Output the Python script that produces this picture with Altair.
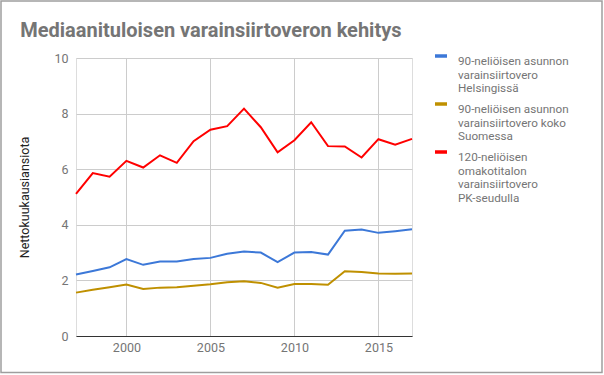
import altair as alt
import pandas as pd

years = list(range(1997, 2018))

helsinki = [2.21, 2.34, 2.47, 2.77, 2.56, 2.68, 2.68, 2.77, 2.81, 2.96, 3.04,
            3.00, 2.66, 3.00, 3.02, 2.93, 3.79, 3.83, 3.71, 3.77, 3.84]
suomi = [1.56, 1.66, 1.75, 1.85, 1.69, 1.74, 1.75, 1.81, 1.86, 1.93, 1.97,
         1.91, 1.74, 1.87, 1.87, 1.84, 2.33, 2.30, 2.25, 2.24, 2.25]
pk = [5.11, 5.86, 5.73, 6.30, 6.06, 6.50, 6.23, 7.01, 7.42, 7.55, 8.18,
      7.51, 6.61, 7.04, 7.69, 6.83, 6.82, 6.42, 7.08, 6.88, 7.09]

series_names = [
    "90-neliöisen asunnon\nvarainsiirtovero\nHelsingissä",
    "90-neliöisen asunnon\nvarainsiirtovero koko\nSuomessa",
    "120-neliöisen\nomakotitalon\nvarainsiirtovero\nPK-seudulla",
]
series_colors = ["#3c78d8", "#bf9000", "#ff0000"]

rows = []
for name, vals in zip(series_names, [helsinki, suomi, pk]):
    for y, v in zip(years, vals):
        rows.append({"Vuosi": y, "Arvo": v, "Sarja": name})
df = pd.DataFrame(rows)

W, H = 336, 278
PL, PT = 76, 58

lines = alt.Chart(df).mark_line(strokeWidth=2).encode(
    x=alt.X("Vuosi:Q",
            scale=alt.Scale(domain=[1997, 2017], nice=False, zero=False),
            axis=alt.Axis(values=[2000, 2005, 2010, 2015], format="d", title=None,
                          grid=True, gridColor="#cccccc", ticks=False,
                          domain=True, domainColor="#333333", domainWidth=1,
                          labelColor="#757575", labelFontSize=12.5, labelFont="Roboto",
                          labelPadding=5)),
    y=alt.Y("Arvo:Q",
            scale=alt.Scale(domain=[0, 10], nice=False),
            axis=alt.Axis(values=[0, 2, 4, 6, 8, 10], title="Nettokuukausiansiota",
                          grid=True, gridColor="#cccccc", ticks=False, domain=False,
                          labelColor="#757575", labelFontSize=12.5, labelFont="Roboto",
                          labelPadding=8, titleColor="#222222", titleFontSize=12.5,
                          titleFont="Roboto", titleFontWeight="normal", titlePadding=22)),
    color=alt.Color("Sarja:N",
                    scale=alt.Scale(domain=series_names, range=series_colors),
                    legend=alt.Legend(
                        title=None, orient="none", legendX=357,
                        legendY=-10,
                        labelExpr="split(datum.label, '\\n')",
                        labelFont="Roboto", labelFontSize=11.7, labelColor="#757575",
                        labelBaseline="top",
                        symbolType="stroke", symbolSize=144, symbolStrokeWidth=3.5,
                        rowPadding=0, labelOffset=9, labelLimit=200)),
)

frame = alt.Chart(alt.Data(values=[{}])).mark_rect(
    fill=None, stroke="#9e9e9e", strokeWidth=1.5
).encode(
    x=alt.value(-75), x2=alt.value(526),
    y=alt.value(-57), y2=alt.value(314.5),
)

chart = alt.layer(frame, lines).properties(
    width=W, height=H,
    title=alt.Title("Mediaanituloisen varainsiirtoveron kehitys",
                    anchor="start", dx=20, offset=-41, font="Roboto",
                    fontSize=20, fontWeight="bold", color="#757575"),
    autosize=alt.AutoSizeParams(type="none"),
    padding={"left": PL, "top": PT, "right": 604 - PL - W, "bottom": 375 - PT - H},
).configure_view(stroke=None).configure(background="white")

chart.save("out.html", embed_options={"renderer": "svg", "actions": False})
